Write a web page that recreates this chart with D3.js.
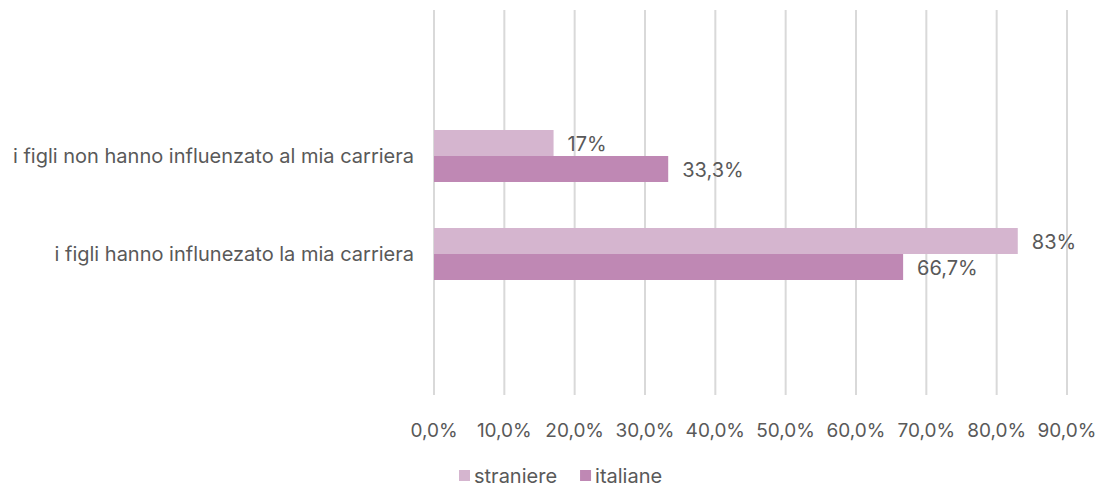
<!DOCTYPE html>
<html>
<head>
<meta charset="utf-8">
<script src="https://cdn.jsdelivr.net/npm/d3@7"></script>
<style>
  html, body { margin: 0; padding: 0; background: #fff; }
  svg text { font-family: "Inter", "Open Sans", sans-serif; fill: #595959; }
</style>
</head>
<body>
<svg id="chart" width="1099" height="487"></svg>
<script>
// Categories (top to bottom) and series
const categories = [
  "i figli non hanno influenzato al mia carriera",
  "i figli hanno influnezato la mia carriera"
];
const seriesNames = ["straniere", "italiane"];
const straniere = [17, 83];
const italiane = [33.3, 66.7];
const valueLabels = {
  straniere: ["17%", "83%"],
  italiane: ["33,3%", "66,7%"]
};
const tickValues = [0, 10, 20, 30, 40, 50, 60, 70, 80, 90];
const colors = ["#d5b5cf", "#bf88b4"];

const svg = d3.select("#chart");
const labelSize = 20;
const tickSize = 19;

const x = d3.scaleLinear().domain([0, 90]).range([434, 1067]);
const y = d3.scaleBand().domain(categories).range([107, 303]);
const inner = d3.scaleBand().domain(seriesNames).range([0, 52]);
const innerOffset = (y.bandwidth() - 52) / 2;

const gridTop = 10, gridBottom = 395;

// Vertical gridlines
svg.append("g")
  .selectAll("line")
  .data(tickValues)
  .join("line")
  .attr("x1", d => x(d)).attr("x2", d => x(d))
  .attr("y1", gridTop).attr("y2", gridBottom)
  .attr("stroke", "#d9d9d9")
  .attr("stroke-width", 2);

// Tick labels
const fmt = d => d.toFixed(1).replace(".", ",") + "%";
svg.append("g")
  .selectAll("text")
  .data(tickValues)
  .join("text")
  .attr("x", d => x(d))
  .attr("y", 430)
  .attr("text-anchor", "middle")
  .attr("dominant-baseline", "central")
  .style("font-size", tickSize + "px")
  .text(fmt);

// Bars
const series = [
  { name: "straniere", values: straniere, color: colors[0] },
  { name: "italiane", values: italiane, color: colors[1] }
];
series.forEach(s => {
  const g = svg.append("g");
  g.selectAll("rect")
    .data(categories)
    .join("rect")
    .attr("x", x(0))
    .attr("y", (c) => y(c) + innerOffset + inner(s.name))
    .attr("width", (c, i) => x(s.values[i]) - x(0))
    .attr("height", inner.bandwidth())
    .attr("fill", s.color);
  g.selectAll("text")
    .data(categories)
    .join("text")
    .attr("x", (c, i) => x(s.values[i]) + 14)
    .attr("y", (c) => y(c) + innerOffset + inner(s.name) + inner.bandwidth() / 2 + 1)
    .attr("dominant-baseline", "central")
    .style("font-size", labelSize + "px")
    .text((c, i) => valueLabels[s.name][i]);
});

// Category labels
svg.append("g")
  .selectAll("text")
  .data(categories)
  .join("text")
  .attr("x", 414)
  .attr("y", c => y(c) + y.bandwidth() / 2)
  .attr("text-anchor", "end")
  .attr("dominant-baseline", "central")
  .style("font-size", labelSize + "px")
  .text(d => d);

// Legend
const legend = svg.append("g");
let lx = 459;
series.forEach(s => {
  legend.append("rect")
    .attr("x", lx).attr("y", 470)
    .attr("width", 11).attr("height", 11)
    .attr("fill", s.color);
  const t = legend.append("text")
    .attr("x", lx + 15).attr("y", 476)
    .attr("dominant-baseline", "central")
    .style("font-size", labelSize + "px")
    .text(s.name);
  lx += 15 + t.node().getComputedTextLength() + 23;
});
</script>
</body>
</html>
